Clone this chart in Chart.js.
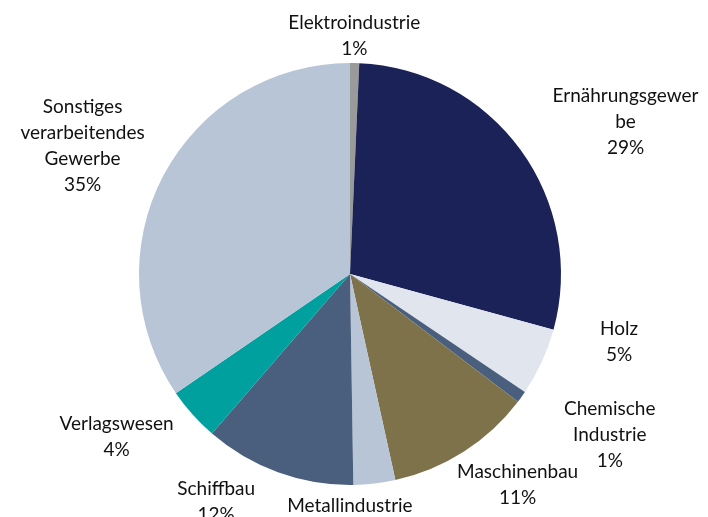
<!DOCTYPE html>
<html>
<head>
<meta charset="utf-8">
<script src="https://cdn.jsdelivr.net/npm/chart.js@4"></script>
<style>
  html, body { margin: 0; padding: 0; background: #fff; }
  #wrap { width: 708px; height: 517px; position: relative; }
</style>
</head>
<body>
<div id="wrap"><canvas id="chart"></canvas></div>
<script>
// Branchen, clockwise from the top
const categories = ['Elektroindustrie', 'Ernährungsgewerbe', 'Holz', 'Chemische Industrie', 'Maschinenbau',
  'Metallindustrie', 'Schiffbau', 'Verlagswesen', 'Sonstiges verarbeitendes Gewerbe'];
// share in percent
const shares = [0.7, 28.55, 5.2, 0.9, 11.2, 3.2, 11.6, 4.1, 34.55];
// label text as it is wrapped in the picture
const labelLines = [
  ['Elektroindustrie'],
  ['Ernährungsgewer', 'be'],
  ['Holz'],
  ['Chemische', 'Industrie'],
  ['Maschinenbau'],
  ['Metallindustrie'],
  ['Schiffbau'],
  ['Verlagswesen'],
  ['Sonstiges', 'verarbeitendes', 'Gewerbe']
];
const colors = ['#9a9a9a', '#1b2257', '#e1e5ee', '#4a5f7d', '#7e724b', '#b8c5d7', '#4a5f7d', '#00a09e', '#b8c5d7'];
// small shifts of the labels, the way Excel's best fit moves them
const labelNudge = [[-2, 9], [38, 1], [51, -35], [43, 9], [16, 3], [-33, 0], [-45, -4], [-26, -2], [-17, -1]];

const FONT = '19px Lato, "Liberation Sans", sans-serif';
const LINE_H = 26;

const outsideLabels = {
  id: 'outsideLabels',
  afterDraw(chart) {
    const ctx = chart.ctx;
    const meta = chart.getDatasetMeta(0);
    const total = shares.reduce((a, b) => a + b, 0);
    ctx.save();
    ctx.font = FONT;
    ctx.fillStyle = '#111';
    ctx.textAlign = 'center';
    ctx.textBaseline = 'middle';
    meta.data.forEach((arc, i) => {
      const p = arc.getProps(['x', 'y', 'startAngle', 'endAngle', 'outerRadius'], true);
      const mid = (p.startAngle + p.endAngle) / 2;
      const cx = Math.cos(mid), cy = Math.sin(mid);
      const lines = labelLines[i].concat([Math.round(shares[i] / total * 100) + '%']);
      const w = Math.max(...lines.map(l => ctx.measureText(l).width));
      const h = lines.length * LINE_H;
      const R = p.outerRadius + 10;
      let bx = p.x + R * cx + cx * w / 2 + labelNudge[i][0];
      let by = p.y + R * cy + cy * h / 2 + labelNudge[i][1];
      lines.forEach((l, k) => {
        ctx.fillText(l, bx, by - h / 2 + LINE_H * (k + 0.5));
      });
    });
    ctx.restore();
  }
};

new Chart(document.getElementById('chart'), {
  type: 'pie',
  data: {
    labels: categories,
    datasets: [{
      data: shares,
      backgroundColor: colors,
      borderWidth: 0
    }]
  },
  options: {
    responsive: true,
    maintainAspectRatio: false,
    animation: false,
    rotation: 0,
    layout: { padding: { left: 100, right: 108, top: 63, bottom: 32 } },
    plugins: {
      legend: { display: false },
      tooltip: { enabled: false }
    }
  },
  plugins: [outsideLabels]
});
</script>
</body>
</html>
